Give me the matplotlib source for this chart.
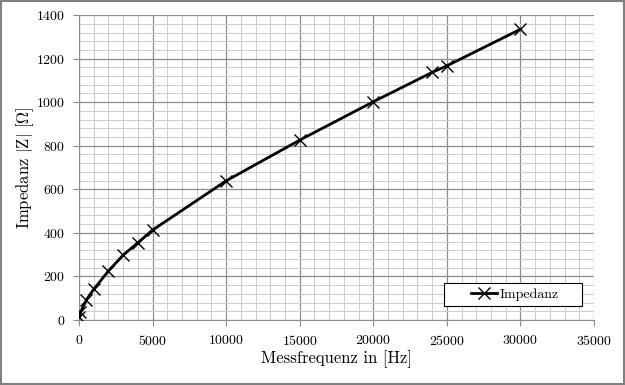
import numpy as np
import matplotlib
matplotlib.use("Agg")
import matplotlib.pyplot as plt
from matplotlib.ticker import MultipleLocator

# Messdaten
freq = [0, 100, 500, 1000, 2000, 3000, 4000, 5000, 10000, 15000, 20000, 24000, 25000, 30000]
impedanz = [12, 35, 92, 141, 225, 298, 355, 413, 639, 826, 1002, 1137, 1167, 1335]

plt.rcParams['font.family'] = ['cmr10', 'DejaVu Serif']
plt.rcParams['mathtext.fontset'] = 'cm'
plt.rcParams['axes.formatter.use_mathtext'] = True

fig = plt.figure(figsize=(6.25, 3.85), dpi=100)
ax = fig.add_axes([0.1264, 0.1688, 0.824, 0.792])

ax.plot(freq, impedanz, color='black', lw=2.0, marker='x', ms=8.5, mew=1.0,
        label='Impedanz', zorder=3)

ax.set_xlim(0, 35000)
ax.set_ylim(0, 1400)
ax.xaxis.set_major_locator(MultipleLocator(5000))
ax.xaxis.set_minor_locator(MultipleLocator(1000))
ax.yaxis.set_major_locator(MultipleLocator(200))
ax.yaxis.set_minor_locator(MultipleLocator(40))

ax.grid(which='major', color='#8c8c8c', lw=0.9)
ax.grid(which='minor', color='#cdcdcd', lw=0.75)
ax.set_axisbelow(True)

for s in ['top', 'right']:
    ax.spines[s].set_visible(False)
for s in ['left', 'bottom']:
    ax.spines[s].set_color('#8c8c8c')

ax.tick_params(which='major', direction='out', length=4, color='#8c8c8c',
               labelsize=10, pad=6)
ax.tick_params(which='minor', length=0)

ax.set_xlabel('Messfrequenz in [Hz]', fontsize=12, labelpad=2)
ax.set_ylabel(r'Impedanz $|\mathrm{Z}|$ [$\Omega$]', fontsize=12, labelpad=0)

# Legendenrahmen wie im Original (breiter Kasten)
ax.add_patch(plt.Rectangle((0.7087, 0.0459), 0.268, 0.0754, transform=ax.transAxes,
                           facecolor='white', edgecolor='black', lw=0.8, zorder=4))
leg = ax.legend(loc='center', bbox_to_anchor=(0.846, 0.0836), fontsize=10,
                frameon=False, handlelength=1.9, handletextpad=0.15, borderpad=0)
leg.set_zorder(5)

# Rahmen um die ganze Grafik
fig.patches.append(plt.Rectangle((0.001, 0.002), 0.997, 0.996, transform=fig.transFigure,
                                 fill=False, edgecolor='#808080', lw=1.5))

fig.savefig('out.png', dpi=100)
